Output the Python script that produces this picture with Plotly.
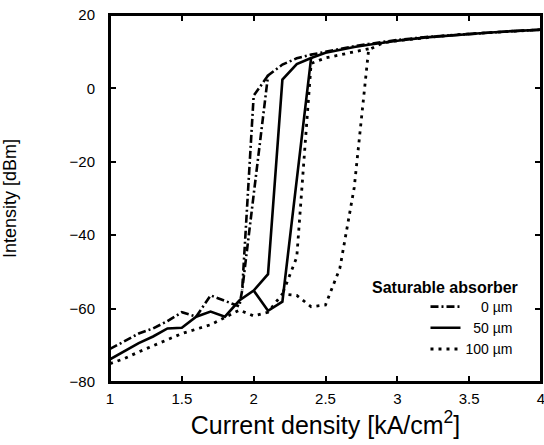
import plotly.graph_objects as go

# ---- data ----
# 0 um absorber (dash-dot): up sweep and down-sweep branch
cur_0_up = [1.0, 1.1, 1.2, 1.3, 1.4, 1.5, 1.6, 1.7, 1.8, 1.9, 1.92, 2.1, 2.2, 2.3, 2.4,
            2.5, 2.6, 2.7, 2.8, 2.9, 3.0, 3.2, 3.4, 3.6, 3.8, 4.0]
int_0_up = [-71.0, -68.8, -66.8, -65.4, -63.4, -61.0, -62.2, -56.4, -57.8, -59.4, -55.0,
            3.5, 6.5, 8.2, 9.2, 10.0, 10.8, 11.5, 12.1, 12.7, 13.2, 14.0, 14.6, 15.1, 15.6, 16.0]
cur_0_down = [2.1, 2.0, 1.92]
int_0_down = [3.5, -2.0, -55.0]

# 50 um absorber (solid)
cur_50_up = [1.0, 1.1, 1.2, 1.3, 1.4, 1.5, 1.6, 1.7, 1.8, 1.9, 2.0, 2.1, 2.2, 2.3, 2.4,
             2.5, 2.6, 2.7, 2.8, 2.9, 3.0, 3.2, 3.4, 3.6, 3.8, 4.0]
int_50_up = [-73.8, -71.5, -69.4, -67.6, -65.4, -65.2, -62.2, -60.8, -62.2, -57.8, -55.1,
             -50.6, 2.4, 6.6, 8.3, 9.7, 10.6, 11.3, 11.9, 12.5, 13.0, 13.9, 14.6, 15.1, 15.6, 16.0]
cur_50_down = [2.4, 2.2, 2.1, 2.0]
int_50_down = [8.3, -58.1, -60.6, -55.1]

# 100 um absorber (dotted)
cur_100_up = [1.0, 1.1, 1.2, 1.3, 1.4, 1.5, 1.6, 1.7, 1.8, 1.9, 2.0, 2.1, 2.2, 2.3, 2.4,
              2.5, 2.6, 2.7, 2.8, 2.9, 3.0, 3.2, 3.4, 3.6, 3.8, 4.0]
int_100_up = [-75.0, -73.6, -71.8, -70.1, -68.4, -66.8, -65.6, -64.4, -62.4, -60.4, -62.0,
              -61.0, -56.0, -56.4, -59.5, -59.0, -49.0, -27.0, 10.5, 12.4, 13.0, 13.9, 14.6,
              15.1, 15.6, 16.0]
cur_100_down = [2.8, 2.7, 2.6, 2.5, 2.4, 2.3, 2.2]
int_100_down = [10.8, 10.0, 9.2, 8.3, 6.8, -46.0, -56.0]

legend_title = "Saturable absorber"
labels = ["\u2007\u20070 \u00b5m", "\u200750 \u00b5m", "100 \u00b5m"]

x_range = [1, 4]
y_range = [-80, 20]
x_ticks = [1, 1.5, 2, 2.5, 3, 3.5, 4]
x_ticktext = ["1", "1.5", "2", "2.5", "3", "3.5", "4"]
y_ticks = [-80, -60, -40, -20, 0, 20]

FONT = "Liberation Sans, Arial, sans-serif"

styles = [
    dict(dash="8px,3px,2px,3px", width=2.6),
    dict(dash="solid", width=2.6),
    dict(dash="3px,5px", width=2.8),
]
series = [
    (cur_0_up, int_0_up, cur_0_down, int_0_down),
    (cur_50_up, int_50_up, cur_50_down, int_50_down),
    (cur_100_up, int_100_up, cur_100_down, int_100_down),
]

fig = go.Figure()
for i, (xu, yu, xd, yd) in enumerate(series):
    st = styles[i]
    fig.add_trace(go.Scatter(x=xu, y=yu, mode="lines", name=labels[i],
                             legendgroup=str(i),
                             line=dict(color="black", width=st["width"], dash=st["dash"])))
    fig.add_trace(go.Scatter(x=xd, y=yd, mode="lines", name=labels[i],
                             legendgroup=str(i), showlegend=False,
                             line=dict(color="black", width=st["width"], dash=st["dash"])))

axis_common = dict(showline=True, linecolor="black", linewidth=2, mirror="ticks",
                   ticks="inside", ticklen=6, tickwidth=1.5, tickcolor="black",
                   showgrid=False, zeroline=False, automargin=False,
                   ticklabeloverflow="allow",
                   tickfont=dict(family=FONT, size=15, color="black"))

# plot area: x 110..541, y 15..382 in the 544x445 window
fig.update_layout(
    width=544, height=445,
    margin=dict(l=110, r=3, t=15, b=63, autoexpand=False),
    paper_bgcolor="white", plot_bgcolor="white",
    font=dict(family=FONT, color="black"),
    showlegend=True,
    legend=dict(x=0.732, y=0.248, xanchor="left", yanchor="top",
                bgcolor="rgba(0,0,0,0)", borderwidth=0,
                font=dict(family=FONT, size=14, color="black"),
                tracegroupgap=0, itemwidth=30),
    annotations=[dict(text="<b>" + legend_title + "</b>", xref="paper", yref="paper",
                      x=(370 - 110) / 431, y=(382 - 287) / 367, xanchor="left",
                      yanchor="middle", showarrow=False,
                      font=dict(family=FONT, size=16, color="black"))],
    shapes=[dict(type="rect", xref="paper", yref="paper", x0=0, x1=1, y0=0, y1=1,
                 line=dict(color="black", width=2), fillcolor="rgba(0,0,0,0)",
                 layer="above")],
    xaxis=dict(range=x_range, tickvals=x_ticks, ticktext=x_ticktext,
               title=dict(text="Current density [kA/cm<sup>2</sup>]",
                          font=dict(family=FONT, size=25, color="black"), standoff=5),
               ticklabelstandoff=2, **axis_common),
    yaxis=dict(range=y_range, tickvals=y_ticks,
               title=dict(text="Intensity [dBm]",
                          font=dict(family=FONT, size=18, color="black"), standoff=53),
               ticklabelstandoff=10, **axis_common),
)

fig.write_html("out.html", config={"displayModeBar": False},
               post_script="document.body.style.margin='0';document.body.style.overflow='hidden';")
